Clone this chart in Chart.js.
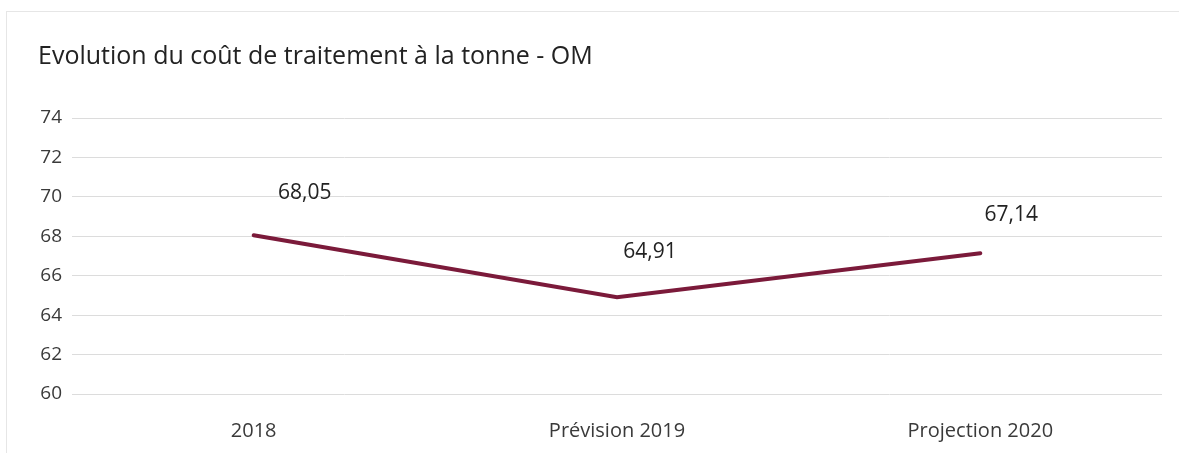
<!DOCTYPE html>
<html>
<head>
<meta charset="utf-8">
<script src="https://cdn.jsdelivr.net/npm/chart.js@4/dist/chart.umd.min.js"></script>
<style>
  html, body { margin: 0; padding: 0; background: #fff; }
  #cadre { position: absolute; left: 6px; top: 11px; width: 1173px; height: 442px; border-top: 1px solid #e6e6e6; border-left: 1px solid #e6e6e6; box-sizing: border-box; }
  #zone { position: relative; width: 1179px; height: 453px; }
</style>
</head>
<body>
<div id="cadre"></div>
<div id="zone"><canvas id="plot1"></canvas></div>
<script>
let categories = ["2018", "Prévision 2019", "Projection 2020"];
let coutTonne = [68.05, 64.91, 67.14];
let titreGraphe = "Evolution du coût de traitement à la tonne - OM";
let axeMin = 60;
let axeMax = 74;
let axePas = 2;

// décalage des étiquettes par rapport au point (comme dans Excel)
let decalages = [[51, -42], [33, -45], [31, -38]];

let formatFr = (v) => v.toFixed(2).replace(".", ",");

let etiquettes = {
    id: "etiquettes",
    afterDatasetsDraw: (chart) => {
        let ctx = chart.ctx;
        let meta = chart.getDatasetMeta(0);
        ctx.save();
        ctx.font = "21px 'Open Sans'";
        ctx.fillStyle = "#222222";
        ctx.textAlign = "center";
        ctx.textBaseline = "middle";
        meta.data.forEach((pt, i) => {
            let d = decalages[i] || [0, -40];
            ctx.fillText(formatFr(coutTonne[i]), pt.x + d[0], pt.y + d[1]);
        });
        ctx.restore();
    }
};

let config1 = {
    type: "line",
    data: {
        labels: categories,
        datasets: [
            {
                label: "Coût à la tonne",
                data: coutTonne,
                borderColor: "#7b1a3a",
                borderWidth: 4,
                pointRadius: 0,
                tension: 0,
                borderCapStyle: "round"
            }
        ]
    },
    options: {
        responsive: false,
        animation: false,
        layout: { padding: { top: 0, right: 17, bottom: 0, left: 38 } },
        plugins: {
            legend: { display: false },
            tooltip: { enabled: false },
            title: {
                display: true,
                text: titreGraphe,
                align: "start",
                color: "#222222",
                font: { family: "'Open Sans'", size: 25, weight: "normal" },
                padding: { top: 42, bottom: 46 }
            }
        },
        scales: {
            x: {
                offset: true,
                grid: { display: false },
                border: { display: false },
                afterFit: (scale) => { scale.height = 59; },
                ticks: { color: "#3a3a3a", padding: 17, font: { family: "'Open Sans'", size: 20 } }
            },
            y: {
                min: axeMin,
                max: axeMax,
                afterFit: (scale) => { scale.width = 34; },
                grid: { color: "#dcdcdc", drawTicks: false },
                border: { display: false },
                ticks: { stepSize: axePas, color: "#3a3a3a", padding: 10, font: { family: "'Open Sans'", size: 19 } }
            }
        }
    },
    plugins: [etiquettes]
};

let plotRef = document.getElementById("plot1");
plotRef.width = 1179;
plotRef.height = 453;
let chart1 = new Chart(plotRef, config1);
</script>
</body>
</html>
